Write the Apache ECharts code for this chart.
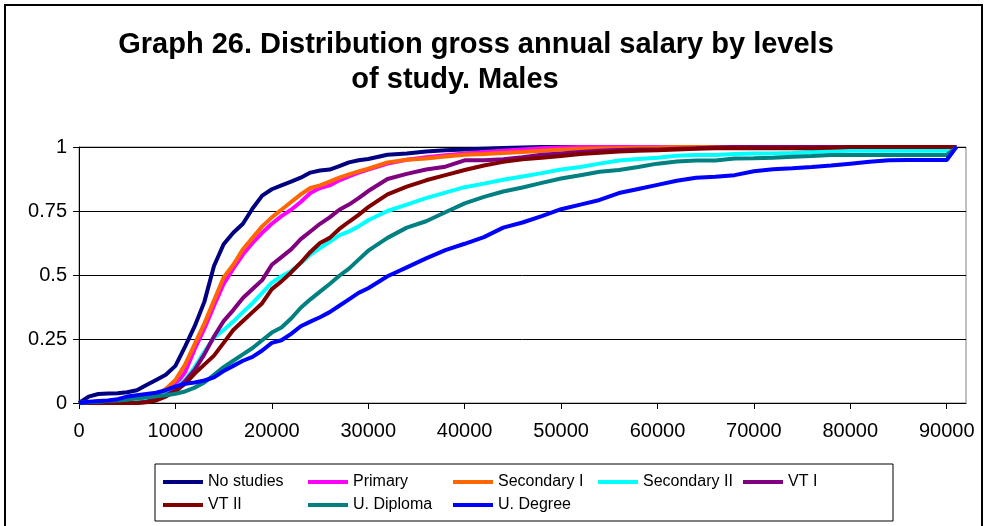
<!DOCTYPE html>
<html>
<head>
<meta charset="utf-8">
<script src="https://cdn.jsdelivr.net/npm/echarts@6/dist/echarts.min.js"></script>
<style>
  html, body { margin: 0; padding: 0; background: #fff; }
  #salary_figure { width: 986px; height: 526px; }
</style>
</head>
<body>
<div id="salary_figure"></div>
<script>
// salary (x) points: every 1000 up to 30000, then every 2000, last one 91000
var salary = [0, 1000, 2000, 3000, 4000, 5000, 6000, 7000, 8000, 9000, 10000,
    11000, 12000, 13000, 14000, 15000, 16000, 17000, 18000, 19000, 20000,
    21000, 22000, 23000, 24000, 25000, 26000, 27000, 28000, 29000, 30000,
    32000, 34000, 36000, 38000, 40000, 42000, 44000, 46000, 48000, 50000,
    52000, 54000, 56000, 58000, 60000, 62000, 64000, 66000, 68000, 70000,
    72000, 74000, 76000, 78000, 80000, 82000, 84000, 86000, 88000, 90000, 91000];

var xTicks = [0, 10000, 20000, 30000, 40000, 50000, 60000, 70000, 80000, 90000];

var noStudies = [0, 0.025, 0.035, 0.037, 0.038, 0.042, 0.05, 0.07, 0.09, 0.11, 0.145,
    0.22, 0.30, 0.395, 0.535, 0.62, 0.665, 0.70, 0.76, 0.81, 0.835,
    0.85, 0.865, 0.88, 0.90, 0.908, 0.912, 0.925, 0.94, 0.948, 0.953,
    0.97, 0.975, 0.982, 0.987, 0.99, 0.993, 0.996, 0.998, 1, 1,
    1, 1, 1, 1, 1, 1, 1, 1, 1, 1,
    1, 1, 1, 1, 1, 1, 1, 1, 1, 1, 1];
var primary = [0, 0, 0, 0, 0, 0, 0.003, 0.01, 0.025, 0.04, 0.07,
    0.12, 0.21, 0.29, 0.38, 0.465, 0.525, 0.58, 0.625, 0.665, 0.70,
    0.73, 0.755, 0.785, 0.82, 0.84, 0.85, 0.87, 0.885, 0.90, 0.912,
    0.935, 0.95, 0.96, 0.968, 0.975, 0.98, 0.985, 0.99, 0.995, 0.998,
    1, 1, 1, 1, 1, 1, 1, 1, 1, 1,
    1, 1, 1, 1, 1, 1, 1, 1, 1, 1, 1];
var secondaryI = [0, 0, 0, 0, 0, 0, 0.005, 0.015, 0.03, 0.055, 0.09,
    0.15, 0.23, 0.31, 0.40, 0.49, 0.54, 0.60, 0.645, 0.69, 0.725,
    0.755, 0.785, 0.815, 0.84, 0.85, 0.865, 0.88, 0.893, 0.905, 0.915,
    0.94, 0.95, 0.955, 0.963, 0.97, 0.973, 0.977, 0.98, 0.985, 0.99,
    0.993, 0.995, 0.995, 0.997, 0.998, 1, 1, 1, 1, 1,
    1, 1, 1, 1, 1, 1, 1, 1, 1, 1, 1];
var secondaryII = [0, 0.002, 0.004, 0.005, 0.006, 0.007, 0.009, 0.012, 0.02, 0.035, 0.06,
    0.09, 0.14, 0.20, 0.255, 0.285, 0.318, 0.355, 0.39, 0.43, 0.47,
    0.495, 0.515, 0.546, 0.58, 0.605, 0.63, 0.655, 0.67, 0.69, 0.714,
    0.75, 0.775, 0.80, 0.822, 0.843, 0.857, 0.872, 0.885, 0.898, 0.912,
    0.922, 0.935, 0.947, 0.953, 0.958, 0.966, 0.969, 0.969, 0.973, 0.975,
    0.975, 0.977, 0.98, 0.983, 0.985, 0.985, 0.985, 0.985, 0.985, 0.985, 1];
var vtI = [0, 0, 0, 0, 0, 0, 0, 0.005, 0.015, 0.03, 0.05,
    0.085, 0.13, 0.19, 0.26, 0.32, 0.363, 0.41, 0.445, 0.48, 0.54,
    0.57, 0.60, 0.64, 0.67, 0.70, 0.725, 0.755, 0.775, 0.80, 0.828,
    0.875, 0.895, 0.912, 0.923, 0.948, 0.948, 0.952, 0.96, 0.97, 0.975,
    0.98, 0.985, 0.988, 0.99, 0.99, 0.993, 0.995, 0.998, 1, 1,
    1, 1, 1, 1, 1, 1, 1, 1, 1, 1, 1];
var vtII = [0, 0, 0, 0, 0, 0, 0, 0.003, 0.01, 0.025, 0.045,
    0.075, 0.115, 0.15, 0.185, 0.235, 0.285, 0.32, 0.355, 0.39, 0.445,
    0.475, 0.51, 0.548, 0.59, 0.625, 0.645, 0.68, 0.708, 0.735, 0.765,
    0.815, 0.845, 0.87, 0.89, 0.91, 0.928, 0.942, 0.952, 0.958, 0.965,
    0.973, 0.978, 0.982, 0.985, 0.987, 0.99, 0.993, 0.995, 0.995, 0.995,
    0.995, 0.995, 0.995, 0.997, 1, 1, 1, 1, 1, 1, 1];
var uDiploma = [0, 0.003, 0.005, 0.008, 0.01, 0.013, 0.018, 0.022, 0.026, 0.03, 0.036,
    0.045, 0.06, 0.08, 0.11, 0.14, 0.165, 0.19, 0.215, 0.245, 0.275,
    0.295, 0.33, 0.372, 0.405, 0.435, 0.465, 0.497, 0.525, 0.56, 0.595,
    0.645, 0.685, 0.71, 0.745, 0.78, 0.805, 0.826, 0.842, 0.86, 0.877,
    0.89, 0.903, 0.91, 0.922, 0.935, 0.943, 0.947, 0.947, 0.955, 0.956,
    0.958, 0.962, 0.965, 0.969, 0.969, 0.969, 0.969, 0.969, 0.969, 0.969, 1];
var uDegree = [0, 0.005, 0.008, 0.01, 0.015, 0.025, 0.03, 0.035, 0.04, 0.05, 0.065,
    0.075, 0.08, 0.088, 0.10, 0.125, 0.145, 0.165, 0.18, 0.205, 0.235,
    0.245, 0.27, 0.30, 0.318, 0.335, 0.355, 0.38, 0.405, 0.43, 0.448,
    0.495, 0.53, 0.565, 0.597, 0.622, 0.648, 0.685, 0.705, 0.73, 0.757,
    0.775, 0.793, 0.82, 0.836, 0.852, 0.868, 0.88, 0.884, 0.89, 0.905,
    0.913, 0.917, 0.922, 0.928, 0.935, 0.942, 0.948, 0.949, 0.949, 0.949, 1];

var seriesNames = ['No studies', 'Primary', 'Secondary I', 'Secondary II', 'VT I', 'VT II', 'U. Diploma', 'U. Degree'];
var seriesValues = [noStudies, primary, secondaryI, secondaryII, vtI, vtII, uDiploma, uDegree];
var seriesColors = ['#000080', '#ff00ff', '#ff6600', '#00ffff', '#800080', '#800000', '#008080', '#0000ff'];

var font = '"Liberation Sans", Arial, sans-serif';

var salary_figure = echarts.init(document.getElementById('salary_figure'));

var series = seriesNames.map(function (name, i) {
    return {
        name: name,
        type: 'line',
        symbol: 'none',
        clip: false,
        color: seriesColors[i],
        lineStyle: { width: 4, color: seriesColors[i] },
        data: salary.map(function (x, j) { return [x, seriesValues[i][j]]; })
    };
});

var option = {
    backgroundColor: '#fff',
    animation: false,
    graphic: [
        // outer frame of the chart
        { type: 'rect', shape: { x: 5, y: 5, width: 977, height: 560 },
          style: { fill: null, stroke: '#000', lineWidth: 2 }, silent: true },
        { type: 'text', x: 476, y: 45,
          style: { text: 'Graph 26. Distribution gross annual salary by levels', align: 'center', verticalAlign: 'middle',
                   font: 'bold 29px ' + font, fill: '#000' } },
        { type: 'text', x: 455, y: 80,
          style: { text: 'of study. Males', align: 'center', verticalAlign: 'middle',
                   font: 'bold 29px ' + font, fill: '#000' } }
    ],
    grid: {
        left: 79, right: 20, top: 147, bottom: 123,
        show: true, borderColor: '#808080', borderWidth: 1, backgroundColor: '#fff'
    },
    legend: {
        left: 155, top: 464, width: 720,
        padding: [9, 10, 7, 8],
        borderColor: '#000', borderWidth: 1,
        icon: 'rect', itemWidth: 40, itemHeight: 4, itemGap: 5,
        textStyle: { fontFamily: font, fontSize: 16, color: '#000', width: 95, lineHeight: 18 },
        data: seriesNames
    },
    xAxis: {
        type: 'value', min: 0, max: 92000, interval: 10000,
        axisLine: { lineStyle: { color: '#000', width: 1 } },
        axisTick: { show: true, length: 6, lineStyle: { color: '#000' }, customValues: xTicks },
        axisLabel: {
            color: '#000', fontFamily: font, fontSize: 20, margin: 18, customValues: xTicks,
            formatter: function (v) { return String(v); }
        },
        splitLine: { show: false }
    },
    yAxis: {
        type: 'value', min: 0, max: 1, interval: 0.25,
        axisLine: { show: true, lineStyle: { color: '#000', width: 1 } },
        axisTick: { show: true, length: 6, lineStyle: { color: '#000' } },
        axisLabel: { color: '#000', fontFamily: font, fontSize: 20, margin: 12 },
        splitLine: { show: true, lineStyle: { color: '#000', width: 1 } }
    },
    series: series
};

salary_figure.setOption(option);
</script>
</body>
</html>
